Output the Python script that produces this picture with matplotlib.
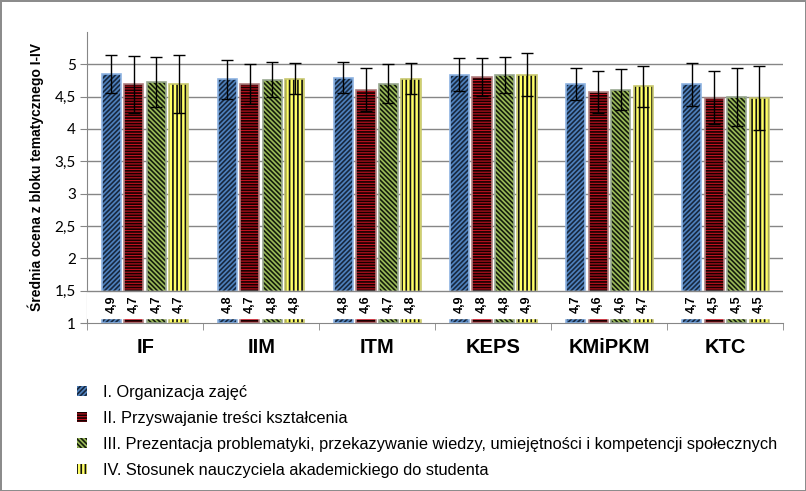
import numpy as np
import matplotlib.pyplot as plt
from matplotlib.patches import Patch

plt.rcParams['font.family'] = ['Liberation Sans', 'DejaVu Sans']
plt.rcParams['hatch.linewidth'] = 1.2

categories = ['IF', 'IIM', 'ITM', 'KEPS', 'KMiPKM', 'KTC']
series = ['I. Organizacja zajęć',
          'II. Przyswajanie treści kształcenia',
          'III. Prezentacja problematyki, przekazywanie wiedzy, umiejętności i kompetencji społecznych',
          'IV. Stosunek nauczyciela akademickiego do studenta']

# srednie dla kazdego bloku I-IV
s1 = [4.85, 4.77, 4.79, 4.84, 4.70, 4.69]
s2 = [4.69, 4.69, 4.61, 4.80, 4.57, 4.48]
s3 = [4.73, 4.76, 4.70, 4.84, 4.61, 4.49]
s4 = [4.70, 4.78, 4.78, 4.84, 4.66, 4.48]
# odchylenia standardowe
e1 = [0.30, 0.30, 0.24, 0.25, 0.25, 0.33]
e2 = [0.44, 0.31, 0.33, 0.29, 0.32, 0.41]
e3 = [0.39, 0.27, 0.30, 0.28, 0.31, 0.45]
e4 = [0.45, 0.24, 0.24, 0.33, 0.32, 0.50]
labels1 = ['4,9', '4,8', '4,8', '4,9', '4,7', '4,7']
labels2 = ['4,7', '4,7', '4,6', '4,8', '4,6', '4,5']
labels3 = ['4,7', '4,8', '4,7', '4,8', '4,6', '4,5']
labels4 = ['4,7', '4,8', '4,8', '4,9', '4,7', '4,5']

vals = [s1, s2, s3, s4]
errs = [e1, e2, e3, e4]
labs = [labels1, labels2, labels3, labels4]
faces = ['#4F81BD', '#C0111F', '#9BBB59', '#FFFF66']
hatch_cols = ['#17283F', '#150000', '#141C0C', '#111111']
edges = ['#8DB3E2', '#B08080', '#98A890', '#C8C870']
hatches = ['///////', '------', '\\\\\\\\\\\\\\', '||||']

fig = plt.figure(figsize=(8.06, 4.91), dpi=100)
fig.patch.set_edgecolor('#8C8C8C')
fig.patch.set_linewidth(2)
ax = fig.add_axes([0.108, 0.342, 0.864, 0.593])

x = np.arange(len(categories))
step = 0.194
w = 0.165
for i in range(4):
    xi = x + (i - 1.5) * step
    ax.bar(xi, np.array(vals[i]) - 1, w, bottom=1, color=faces[i],
           hatch=hatches[i], edgecolor=hatch_cols[i], linewidth=0, zorder=2)
    ax.bar(xi, np.array(vals[i]) - 1, w, bottom=1, fill=False,
           edgecolor=edges[i], linewidth=1.2, zorder=2.1)
    ax.errorbar(xi, vals[i], yerr=errs[i], fmt='none', ecolor='black',
                elinewidth=1, capsize=4.5, capthick=1, zorder=4)
    for xx, t in zip(xi, labs[i]):
        ax.text(xx, 1.29, t, rotation=90, ha='center', va='center',
                fontsize=9, fontweight='bold', zorder=5)

# biale pole na etykiety
ax.axhspan(1.075, 1.497, color='white', zorder=3)

for yv in np.arange(1.5, 5.01, 0.5):
    ax.axhline(yv, color='#868686', linewidth=1, zorder=1 if yv > 1.6 else 3.5)

ax.set_xlim(-0.5, 5.5)
ax.set_ylim(1, 5.5)
ax.set_yticks([1, 1.5, 2, 2.5, 3, 3.5, 4, 4.5, 5])
ax.set_yticklabels(['1', '1,5', '2', '2,5', '3', '3,5', '4', '4,5', '5'],
                   fontsize=11, family=['Lato', 'DejaVu Sans'])
ax.set_xticks(x)
ax.set_xticklabels(categories, fontsize=14.5, fontweight='bold')
ax.set_xticks(np.arange(-0.5, 6, 1), minor=True)
ax.tick_params(axis='x', which='major', length=0, pad=11)
ax.tick_params(axis='x', which='minor', length=5, color='#868686')
ax.tick_params(axis='y', length=5, color='#868686', pad=3)
for s in ['top', 'right']:
    ax.spines[s].set_visible(False)
ax.spines['left'].set_color('#868686')
ax.spines['bottom'].set_color('#868686')
ax.set_ylabel('Średnia ocena z bloku tematycznego I-IV', fontsize=10,
              fontweight='bold', labelpad=8)

handles = [Patch(facecolor=faces[i], hatch=hatches[i], edgecolor=hatch_cols[i],
                 linewidth=0) for i in range(4)]
fig.legend(handles, series, loc='upper left', bbox_to_anchor=(0.087, 0.23),
           frameon=False, fontsize=11.8, labelspacing=0.68,
           handlelength=0.6, handleheight=0.6, handletextpad=1.0,
           borderaxespad=0)

fig.savefig('out.png', dpi=100)
